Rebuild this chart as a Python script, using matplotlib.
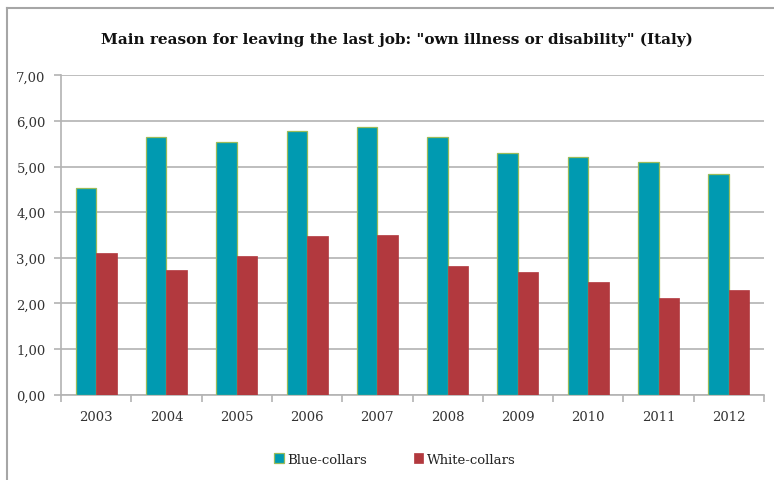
import matplotlib
matplotlib.use("Agg")
import matplotlib.pyplot as plt
import numpy as np
from matplotlib.lines import Line2D

years = ["2003", "2004", "2005", "2006", "2007", "2008", "2009", "2010", "2011", "2012"]
blue_collars = [4.52, 5.65, 5.54, 5.77, 5.87, 5.64, 5.30, 5.22, 5.09, 4.83]
white_collars = [3.11, 2.73, 3.05, 3.48, 3.50, 2.81, 2.70, 2.47, 2.11, 2.29]
yticks = [0, 1, 2, 3, 4, 5, 6, 7]

TITLE = 'Main reason for leaving the last job: "own illness or disability" (Italy)'
BLUE = "#009AB1"
RED = "#B2393E"
EDGE_BLUE = "#9BBB59"
GRID = "#B3B3B3"
FONT = "DejaVu Serif"

W, H = 774, 481
fig = plt.figure(figsize=(W / 100, H / 100), dpi=100)
fig.patch.set_facecolor("white")

# outer chart frame: only its top and left edges fall inside the image
fx, fy = 7 / W, 1 - 9 / H
fig.lines.append(Line2D([fx, 1.0], [fy, fy], transform=fig.transFigure,
                        color="#A6A6A6", linewidth=1.5))
fig.lines.append(Line2D([fx, fx], [0.0, fy], transform=fig.transFigure,
                        color="#A6A6A6", linewidth=1.5))

left, right = 61, 764
top, bottom = 76.3, 395.7
ax = fig.add_axes([left / W, (H - bottom) / H, (right - left) / W, (bottom - top) / H])

x = np.arange(len(years))
bw = 0.292
ax.bar(x - bw / 2, blue_collars, bw, color=BLUE, edgecolor=EDGE_BLUE, linewidth=0.9,
       label="Blue-collars", zorder=3)
ax.bar(x + bw / 2, white_collars, bw, color=RED, edgecolor=RED, linewidth=0.5,
       label="White-collars", zorder=3)

ax.set_xlim(-0.5, len(years) - 0.5)
ax.set_ylim(0, 7)
ax.set_yticks(yticks)
ax.set_yticklabels([f"{v:.2f}".replace(".", ",") for v in yticks], family=FONT, fontsize=9.5,
                   color="#333333")
ax.set_xticks(x)
ax.set_xticklabels(years, family=FONT, fontsize=9.5, color="#333333")
ax.set_xticks(np.arange(-0.5, len(years)), minor=True)

ax.yaxis.grid(True, color=GRID, linewidth=1.2, zorder=0)
ax.set_axisbelow(True)
for s in ["top", "right"]:
    ax.spines[s].set_visible(False)
for s in ["left", "bottom"]:
    ax.spines[s].set_color(GRID)
    ax.spines[s].set_linewidth(1.2)

ax.tick_params(axis="y", length=5, color=GRID, width=1.2, pad=6)
ax.tick_params(axis="x", which="major", length=0, pad=11)
ax.tick_params(axis="x", which="minor", length=5, color=GRID, width=1.2)

fig.text(397 / W, 1 - 40 / H, TITLE, ha="center", va="center",
         family=FONT, fontsize=11, fontweight="bold", color="#111111")

leg = fig.legend(loc="center", bbox_to_anchor=(395 / W, 1 - 460 / H), ncol=2, frameon=False,
                 prop={"family": FONT, "size": 9.5}, handlelength=0.7, handleheight=0.7,
                 handletextpad=0.3, columnspacing=3.5)
for t in leg.get_texts():
    t.set_color("#222222")

fig.savefig("out.png", dpi=100, facecolor="white")
